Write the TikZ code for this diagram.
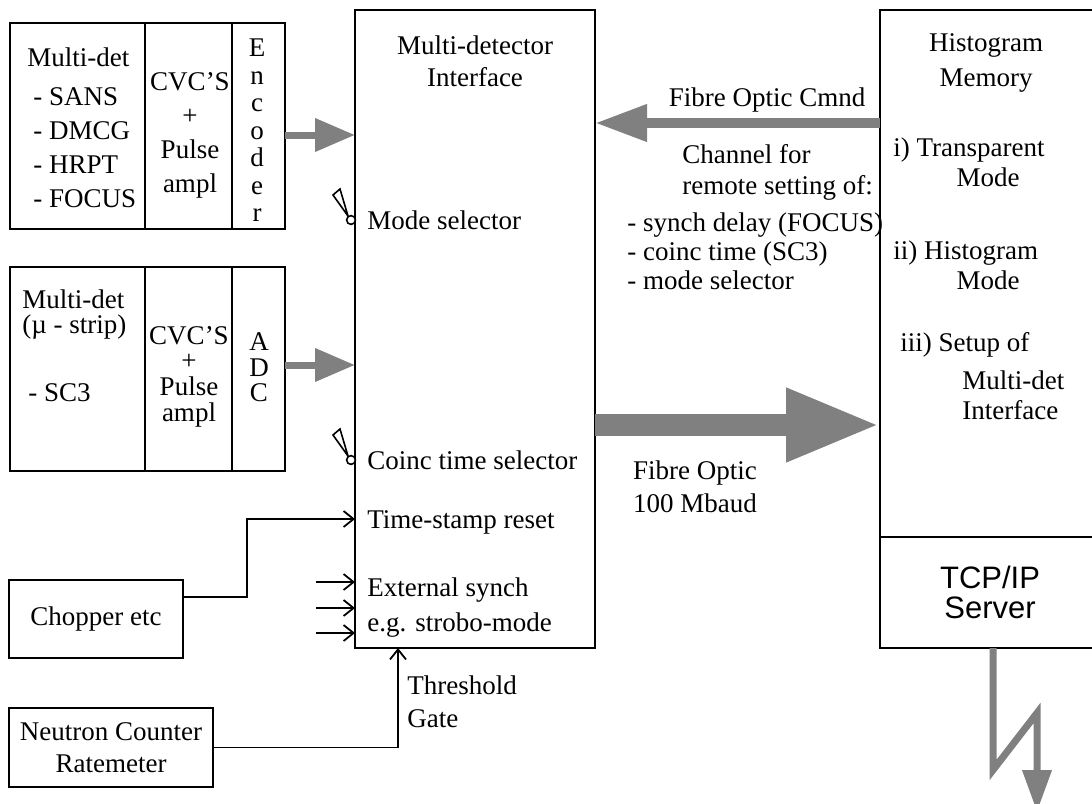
\documentclass[tikz,border=0pt]{standalone}
\usepackage{fontspec}
\setmainfont{Liberation Serif}
\newfontfamily\helvfont{Liberation Sans}
\usepackage{tikz}
\usetikzlibrary{arrows.meta,positioning,calc}

\begin{document}
\begin{tikzpicture}[
  x=0.5pt,y=-0.5pt,
  blk/.style={draw=black, line width=1.2pt, inner sep=0pt, outer sep=0pt},
  txt/.style={font=\fontsize{13.5}{17}\selectfont, inner sep=0pt, align=center},
  txtl/.style={txt, align=left, anchor=west},
  bs/.style={font=\fontsize{13.5}{#1}\selectfont},
  fat/.style={draw=black!50, line width=#1},
  sig/.style={draw=black, line width=0.9pt, -{Straight Barb[length=5pt,width=8pt]}},
  switch/.style={draw=black, line width=0.8pt, fill=white},
]
\path[use as bounding box, fill=white] (0,0) rectangle (1092,803);

% Detector blocks (left)
\node[blk, minimum width=67.5pt, minimum height=103pt] (dA) at (77.5,126) {};
\node[blk, minimum width=43.5pt, minimum height=103pt, right=0pt of dA] (dB) {};
\node[blk, minimum width=26.5pt, minimum height=103pt, right=0pt of dB] (dC) {};

\node[blk, minimum width=67.5pt, minimum height=102pt] (sA) at (77.5,369) {};
\node[blk, minimum width=43.5pt, minimum height=102pt, right=0pt of sA] (sB) {};
\node[blk, minimum width=26.5pt, minimum height=102pt, right=0pt of sB] (sC) {};

\node[blk, minimum width=87pt, minimum height=39pt, txt] (chop) at (96,619) {Chopper etc};
\node[blk, minimum width=102pt, minimum height=39.5pt, txt, bs=16pt] (ncr) at (111,747.5) {Neutron Counter\\Ratemeter};

% Interface and histogram memory
\node[blk, minimum width=120pt, minimum height=319pt] (mdi) at (475,329) {};
\node[blk, minimum width=110pt, minimum height=263.5pt] (hm) at (990,273.5) {};
\node[blk, minimum width=110pt, minimum height=55.5pt, below=0pt of hm,
      font=\helvfont\fontsize{15.5}{15}\selectfont, align=center] (srv) {TCP/IP\\Server};

% Texts in the detector blocks
\node[txtl] (lmd1) at (27,57) {Multi-det};
\node[txtl] (lst1) at (33,148) {- SANS\\- DMCG\\- HRPT\\- FOCUS};
\node[txt] (cvc1) at (190,135.5) {CVC’S\\+\\Pulse\\ampl};
\node[txt, bs=13.75pt] (enc) at (257,130.5) {E\\n\\c\\o\\d\\e\\r};

\node[txtl, bs=12.5pt] (lmd2) at (22,314.5) {Multi-det\\(µ - strip)};
\node[txtl] (lsc3) at (28,393) {- SC3};
\node[txt, bs=12.8pt] (cvc2) at (189,376.5) {CVC’S\\+\\Pulse\\ampl};
\node[txt, bs=12.75pt] (adc) at (259,367.5) {A\\D\\C};

% Texts in the interface
\node[txt, bs=16pt] (mdit) at (475,61) {Multi-detector\\Interface};
\node[txtl] (msel) at (367,220) {Mode selector};
\node[txtl] (csel) at (367,460) {Coinc time selector};
\node[txtl] (tsr) at (367,522) {Time-stamp reset};
\node[txtl, bs=17.5pt] (exs) at (367,607.5) {External synch\\e.g. strobo-mode};

% Fibre optic texts
\node[txt] (fcm) at (767,100) {Fibre Optic Cmnd};
\node[txtl, bs=15.5pt] (chn) at (682,172.5) {Channel for\\remote setting of:};
\node[txtl, bs=14.5pt] (rms) at (627,251) {- synch delay (FOCUS)\\- coinc time (SC3)\\- mode selector};
\node[txt, bs=16.5pt] (fo) at (695,486.5) {Fibre Optic\\100 Mbaud};

% Histogram memory texts
\node[txt, bs=17.5pt] (hmt) at (986,62.5) {Histogram\\Memory};
\node[txtl] (m1) at (893,150) {i) Transparent};
\node[txt] (m1b) at (988,177) {Mode};
\node[txtl] (m2) at (893,253) {ii) Histogram};
\node[txt] (m2b) at (988,280) {Mode};
\node[txtl] (m3) at (900,345) {iii) Setup of};
\node[txtl, bs=15pt] (m3b) at (962,395) {Multi-det\\Interface};

\node[txtl, bs=16.5pt] (thr) at (407,701.5) {Threshold\\Gate};

% Fat (fibre) arrows
\coordinate (encY) at (0,135);
\coordinate (adcY) at (0,365);
\coordinate (cmdY) at (0,123);
\coordinate (fwdY) at (0,425);
\draw[fat=3.5pt, -{Triangle[length=20pt,width=16pt]}] (dC.east |- encY) -- (mdi.west |- encY);
\draw[fat=3.5pt, -{Triangle[length=20pt,width=16pt]}] (sC.east |- adcY) -- (mdi.west |- adcY);
\draw[fat=5pt, -{Triangle[length=26pt,width=17.5pt]}] (hm.west |- cmdY) -- (mdi.east |- cmdY);
\draw[fat=11pt, -{Triangle[length=47pt,width=34pt]}] (mdi.east |- fwdY) -- (hm.west |- fwdY);

% Network link (lightning)
\coordinate (lz1) at (993,770);
\coordinate (lz2) at (1037,713);
\coordinate (lz3) at (1037,812);
\draw[fat=3.5pt, -{Triangle[length=21pt,width=14pt]}] (srv.south -| lz1) -- (lz1) -- (lz2) -- (lz3);

% Selector switches
\draw[switch] (348,216) -- (333,195) -- (340,189) -- cycle;
\draw[switch] (351,220) circle[radius=2.2pt];
\draw[switch] (348,456) -- (333,435) -- (340,429) -- cycle;
\draw[switch] (351,460) circle[radius=2.2pt];

% Signal lines
\coordinate (chopY) at (0,597);
\coordinate (tsbend) at (247,519);
\draw[sig] (chop.east |- chopY) -| (tsbend) -- (mdi.west |- tsbend);
\foreach \yy [count=\k] in {582,608,633} {
  \coordinate (ext\k) at (316,\yy);
  \draw[sig] (ext\k) -- (mdi.west |- ext\k);
}
\coordinate (gate) at (398,0);
\draw[sig] (ncr.east) -| (mdi.south -| gate);

\end{tikzpicture}
\end{document}
